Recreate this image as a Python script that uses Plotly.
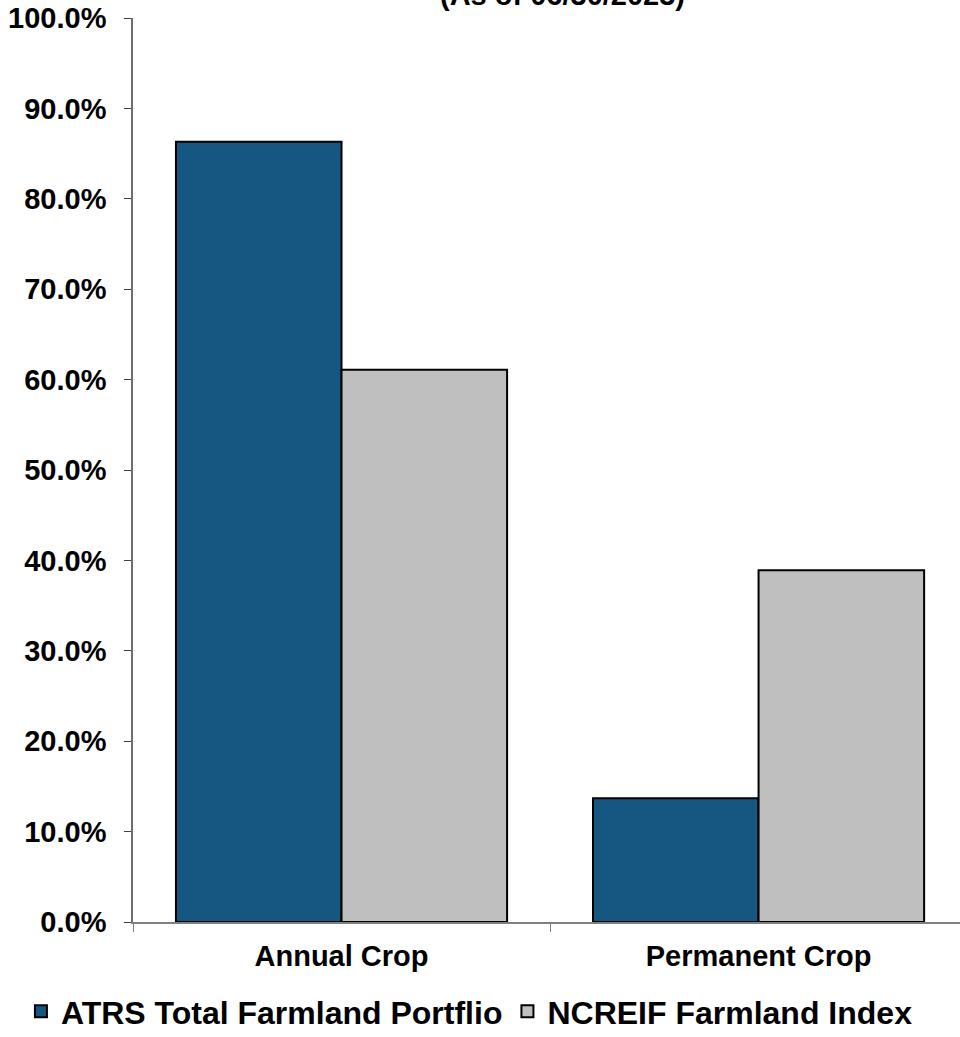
import plotly.graph_objects as go

categories = ["Annual Crop", "Permanent Crop"]
atrs_values = [86.3, 13.7]
ncreif_values = [61.1, 38.9]
series_names = ["ATRS Total Farmland Portflio", "NCREIF Farmland Index"]
y_ticks = [0, 10, 20, 30, 40, 50, 60, 70, 80, 90, 100]
y_tick_labels = [f"{v:.1f}%" for v in y_ticks]
subtitle = "(As of 06/30/2023)"

FONT = "Liberation Sans, Arial, sans-serif"

fig = go.Figure()
fig.add_trace(go.Bar(
    x=categories, y=atrs_values, name=series_names[0],
    marker=dict(color="#165781", line=dict(color="#000000", width=2)),
))
fig.add_trace(go.Bar(
    x=categories, y=ncreif_values, name=series_names[1],
    marker=dict(color="#BFBFBF", line=dict(color="#000000", width=2)),
))

fig.update_layout(
    width=960, height=1037,
    margin=dict(l=133, r=0, t=18, b=115, autoexpand=False),
    paper_bgcolor="white", plot_bgcolor="white",
    barmode="group", bargap=0.206, bargroupgap=0,
    font=dict(family=FONT, size=29, color="#000000", weight="bold"),
    showlegend=True,
    legend=dict(orientation="h", x=-0.1355, xanchor="left",
                y=-0.099, yanchor="middle",
                font=dict(size=32, family=FONT, weight="bold"), itemwidth=30,
                traceorder="normal", tracegroupgap=0),
    annotations=[dict(text=subtitle, xref="paper", yref="paper", x=0.519, y=1,
                      xanchor="center", yanchor="bottom", yshift=5, showarrow=False,
                      font=dict(size=29, family=FONT, weight="bold"))],
)
fig.update_xaxes(
    range=[-0.5, 1.483], showline=True, linecolor="#808080", linewidth=2,
    ticks="outside", tickson="boundaries", ticklen=8, tickcolor="#808080",
    showgrid=False, automargin=False, ticklabelstandoff=7, tickangle=0,
    ticklabeloverflow="allow",
    tickfont=dict(size=29, family=FONT, weight="bold"),
)
fig.update_yaxes(
    range=[0, 100], tickvals=y_ticks, ticktext=y_tick_labels,
    showline=True, linecolor="#6E6E6E", linewidth=1.5,
    ticks="outside", ticklen=7, tickcolor="#404040",
    showgrid=False, zeroline=False, ticklabelstandoff=12, automargin=False,
    ticklabeloverflow="allow",
    tickfont=dict(size=29, family=FONT, weight="bold"),
)

fig.write_html("out.html", config={"displayModeBar": False},
               post_script="document.body.style.margin='0';")
